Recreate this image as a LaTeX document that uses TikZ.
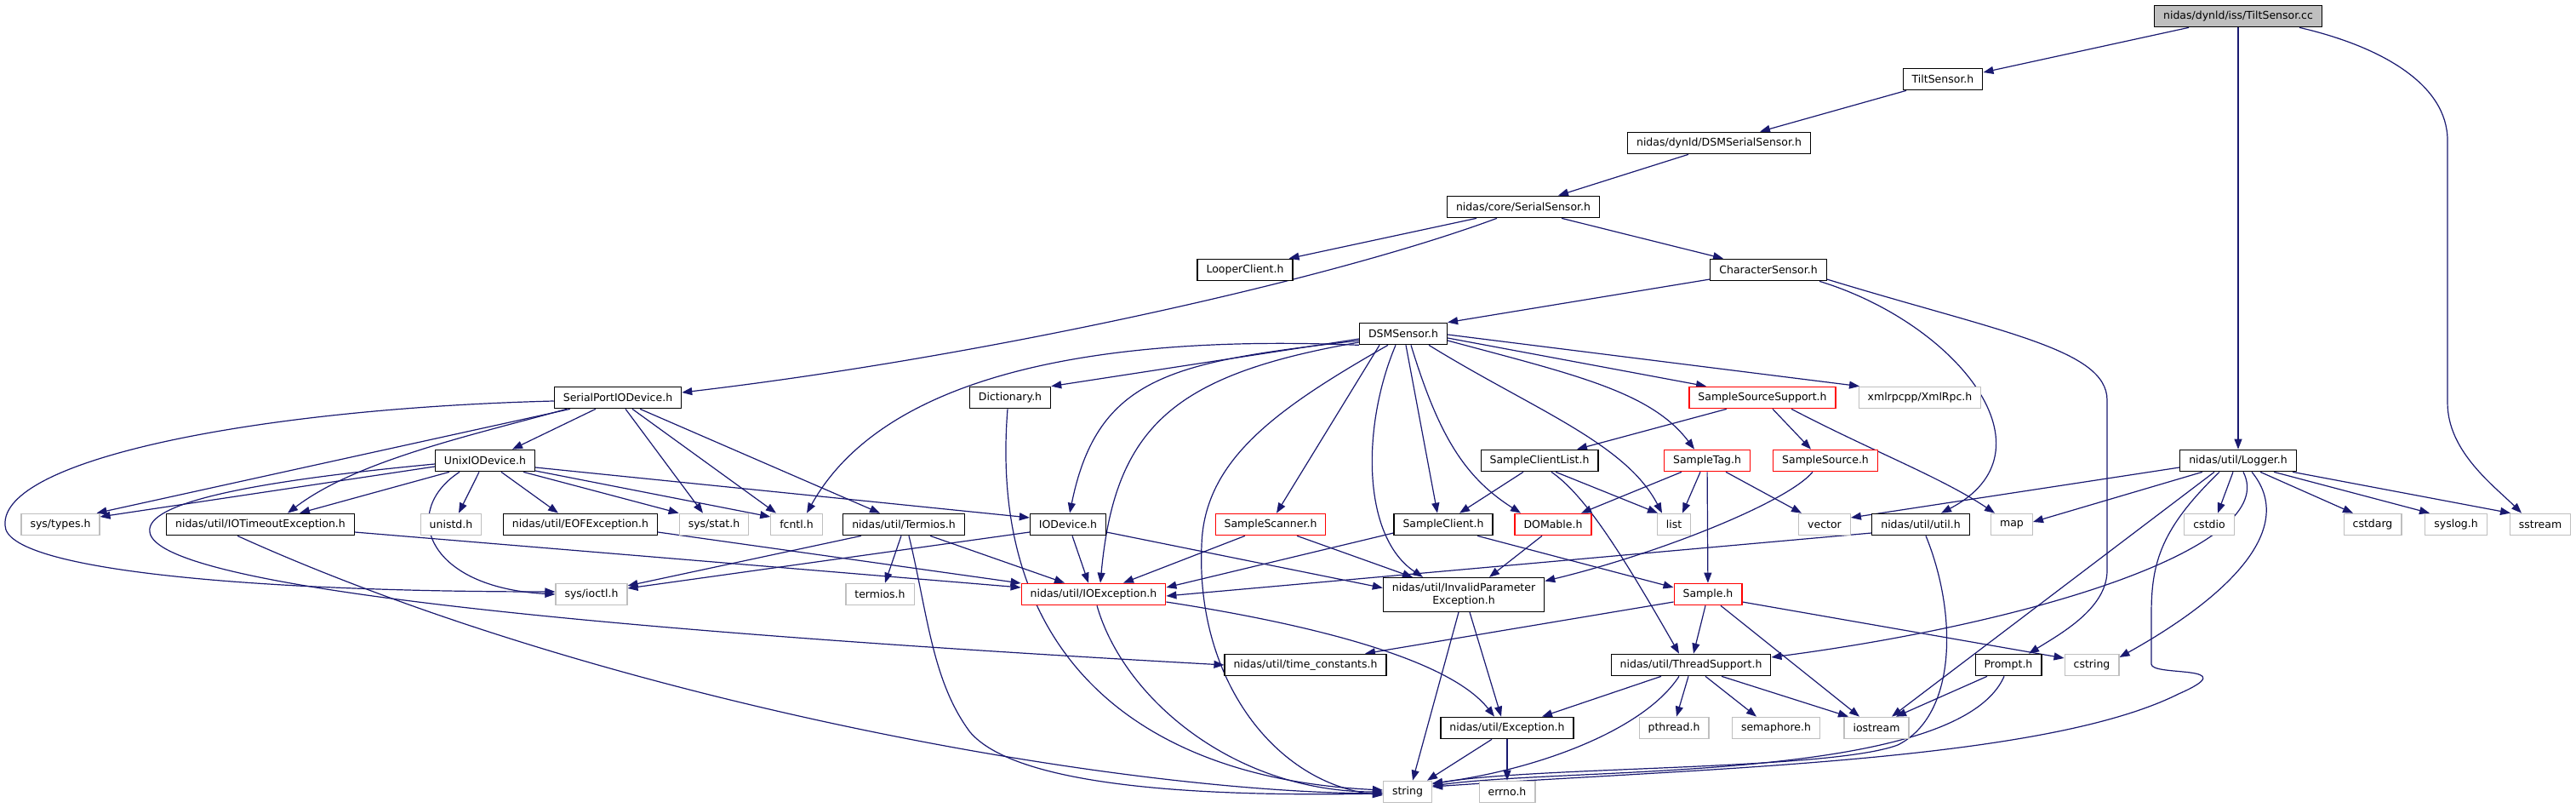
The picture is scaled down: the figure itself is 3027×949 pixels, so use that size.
\documentclass[tikz,border=0pt]{standalone}
\usepackage{fontspec}
\setmainfont{DejaVu Sans}
\usetikzlibrary{arrows.meta,backgrounds}
\definecolor{edgeblue}{RGB}{25,25,112}
\definecolor{boxgray}{RGB}{191,191,191}
\definecolor{rootfill}{RGB}{191,191,191}
\tikzset{
  % Tugunlar
  hbox/.style    = {draw=black, line width=1.2pt, fill=white, minimum height=25.5pt,
                    inner xsep=10.5pt, inner ysep=2pt, font=\fontsize{12.5}{15}\selectfont},
  sysbox/.style  = {hbox, draw=boxgray},
  redbox/.style  = {hbox, draw=red},
  rootbox/.style = {hbox, fill=rootfill},
  % Bog'lanishlar
  dep/.style     = {-{Triangle[length=12pt,width=9pt]}, draw=edgeblue, line width=1.2pt},
}
\begin{document}
\begin{tikzpicture}[x=1pt,y=-1pt]
  \useasboundingbox (0,0) rectangle (3027,949);
  % Yuqori zanjir
  \node[rootbox] (tcc) at (2630,19) {nidas/dynld/iss/TiltSensor.cc};
  \node[hbox] (tsh) at (2283,93) {TiltSensor.h};
  \node[hbox] (dss) at (2020,168) {nidas/dynld/DSMSerialSensor.h};
  \node[hbox] (ssh) at (1790,243) {nidas/core/SerialSensor.h};
  \node[hbox] (lcl) at (1463,317) {LooperClient.h};
  \node[hbox] (chs) at (2078,317) {CharacterSensor.h};
  \node[hbox] (dsm) at (1649,392) {DSMSensor.h};
  % 467-qator
  \node[hbox] (spd) at (726,467) {SerialPortIODevice.h};
  \node[hbox] (dic) at (1187,467) {Dictionary.h};
  \node[redbox] (sss) at (2071,467) {SampleSourceSupport.h};
  \node[sysbox] (xml) at (2256,467) {xmlrpcpp/XmlRpc.h};
  % 541-qator
  \node[hbox] (uio) at (570,541) {UnixIODevice.h};
  \node[hbox] (scl) at (1809,541) {SampleClientList.h};
  \node[redbox] (stg) at (2006,541) {SampleTag.h};
  \node[redbox] (ssr) at (2145,541) {SampleSource.h};
  \node[hbox] (log) at (2630,541) {nidas/util/Logger.h};
  % 616-qator
  \node[sysbox] (typ) at (71,616) {sys/types.h};
  \node[hbox] (iot) at (306,616) {nidas/util/IOTimeoutException.h};
  \node[sysbox] (uni) at (530,616) {unistd.h};
  \node[hbox] (eof) at (682,616) {nidas/util/EOFException.h};
  \node[sysbox] (sta) at (839,616) {sys/stat.h};
  \node[sysbox] (fcn) at (936,616) {fcntl.h};
  \node[hbox] (ter) at (1062,616) {nidas/util/Termios.h};
  \node[hbox] (iod) at (1255,616) {IODevice.h};
  \node[redbox] (ssc) at (1493,616) {SampleScanner.h};
  \node[hbox] (scn) at (1696,616) {SampleClient.h};
  \node[redbox] (dom) at (1825,616) {DOMable.h};
  \node[sysbox] (lst) at (1967,616) {list};
  \node[sysbox] (vec) at (2144,616) {vector};
  \node[hbox] (utl) at (2257,616) {nidas/util/util.h};
  \node[sysbox] (map) at (2364,616) {map};
  \node[sysbox] (cio) at (2596,616) {cstdio};
  \node[sysbox] (cag) at (2788,616) {cstdarg};
  \node[sysbox] (slg) at (2886,616) {syslog.h};
  \node[sysbox] (sst) at (2985,616) {sstream};
  % 698-qator
  \node[sysbox] (ioc) at (695,698) {sys/ioctl.h};
  \node[sysbox] (tms) at (1034,698) {termios.h};
  \node[redbox] (ioe) at (1285,698) {nidas/util/IOException.h};
  \node[hbox, align=center, minimum height=40pt] (ipe) at (1720,698.5)
    {nidas/util/InvalidParameter\\Exception.h};
  \node[redbox] (smp) at (2007,698) {Sample.h};
  % 781-qator
  \node[hbox] (tcs) at (1534,781) {nidas/util/time\_constants.h};
  \node[hbox] (thr) at (1987,781) {nidas/util/ThreadSupport.h};
  \node[hbox] (prm) at (2360,781) {Prompt.h};
  \node[sysbox] (cst) at (2458,781) {cstring};
  % 855-qator
  \node[hbox] (exc) at (1771,855) {nidas/util/Exception.h};
  \node[sysbox] (pth) at (1967,855) {pthread.h};
  \node[sysbox] (sem) at (2087,855) {semaphore.h};
  \node[sysbox] (ios) at (2205,855) {iostream};
  % 930-qator
  \node[sysbox] (str) at (1654,930) {string};
  \node[sysbox] (err) at (1771,930) {errno.h};

  \begin{scope}[on background layer]
    % TiltSensor.cc
    \draw[dep] ([xshift=-58pt]tcc.south) -- ([yshift=8pt]tsh.east);
    \draw[dep] (tcc) -- (log);
    \draw[dep] ([xshift=72pt]tcc.south) .. controls (2800,55) and (2876,100) .. (2876,165)
      -- (2876,473) .. controls (2876,530) and (2930,570) .. ([xshift=-22pt]sst.north);
    \draw[dep] ([xshift=-43pt]tsh.south) -- ([xshift=48pt]dss.north);
    \draw[dep] ([xshift=-36pt]dss.south) -- ([xshift=41pt]ssh.north);
    % SerialSensor.h
    \draw[dep] ([xshift=-55pt]ssh.south) -- ([xshift=-5pt]lcl.north east);
    \draw[dep] ([xshift=-31pt]ssh.south) .. controls (1560,330) and (1150,420) .. ([yshift=6pt]spd.east);
    \draw[dep] ([xshift=45pt]ssh.south) -- ([xshift=-53pt]chs.north);
    % CharacterSensor.h
    \draw[dep] ([yshift=-11pt]chs.west) -- (dsm.north east);
    \draw[dep] ([xshift=60pt]chs.south) .. controls (2300,380) and (2420,530) .. ([xshift=24pt]utl.north);
    \draw[dep] ([yshift=-11pt]chs.east) .. controls (2350,390) and (2476,410) .. (2476,470)
      -- (2476,670) .. controls (2476,715) and (2420,745) .. ([xshift=24pt]prm.north);
    % DSMSensor.h
    \draw[dep] ([yshift=-6pt]dsm.west) -- (dic.north east);
    \draw[dep] (dsm.south west) .. controls (1350,395) and (1050,420) .. ([xshift=12pt]fcn.north);
    \draw[dep] ([yshift=-8pt]dsm.west) .. controls (1380,425) and (1290,440) .. ([xshift=2pt]iod.north);
    \draw[dep] ([yshift=-10pt]dsm.west) .. controls (1380,440) and (1310,500) .. ([xshift=8pt]ioe.north);
    \draw[dep] ([xshift=-18pt]dsm.south) .. controls (1500,480) and (1415,540) .. (1412,640)
      .. controls (1405,800) and (1500,920) .. ([yshift=-4pt]str.west);
    \draw[dep] ([xshift=-28pt]dsm.south) -- ([xshift=7pt]ssc.north);
    \draw[dep] ([xshift=-9pt]dsm.south) .. controls (1600,500) and (1600,630) .. ([xshift=-48pt]ipe.north);
    \draw[dep] ([xshift=3pt]dsm.south) -- ([xshift=-7pt]scn.north);
    \draw[dep] ([xshift=9pt]dsm.south) .. controls (1690,510) and (1720,560) .. ([xshift=-38pt]dom.north);
    \draw[dep] ([xshift=30pt]dsm.south) .. controls (1800,480) and (1910,520) .. ([xshift=-14pt]lst.north);
    \draw[dep] ([yshift=-8pt]dsm.east) .. controls (1850,440) and (1940,460) .. ([xshift=-15pt]stg.north);
    \draw[dep] ([yshift=-5pt]dsm.east) -- ([xshift=-66pt]sss.north);
    \draw[dep] ([yshift=-1pt]dsm.east) -- ([xshift=-71pt]xml.north);
    % SampleSourceSupport.h, SampleTag.h, SampleSource.h, SampleClientList.h
    \draw[dep] ([xshift=-42pt]sss.south) -- ([xshift=44pt]scl.north);
    \draw[dep] ([xshift=12pt]sss.south) -- ([xshift=-17pt]ssr.north);
    \draw[dep] ([xshift=34pt]sss.south) .. controls (2200,530) and (2280,560) .. ([xshift=-20pt]map.north);
    \draw[dep] ([xshift=-30pt]stg.south) -- ([xshift=33pt]dom.north);
    \draw[dep] ([xshift=-8pt]stg.south) -- ([xshift=10pt]lst.north);
    \draw[dep] (stg) -- (smp);
    \draw[dep] ([xshift=22pt]stg.south) -- ([xshift=-27pt]vec.north);
    \draw[dep] ([xshift=-15pt]ssr.south) .. controls (2100,590) and (1950,650) .. ([yshift=16pt]ipe.east);
    \draw[dep] ([xshift=-19pt]scl.south) -- ([xshift=19pt]scn.north);
    \draw[dep] ([xshift=19pt]scl.south) -- ([xshift=-19pt]lst.north);
    \draw[dep] ([xshift=14pt]scl.south) .. controls (1860,580) and (1900,640) .. ([xshift=-14pt]thr.north);
    % 616-qatordan
    \draw[dep] ([yshift=-10pt]scn.west) -- ([yshift=8pt]ioe.east);
    \draw[dep] ([xshift=40pt]scn.south) -- ([yshift=8pt]smp.west);
    \draw[dep] ([xshift=-30pt]ssc.south) -- ([xshift=35pt]ioe.north);
    \draw[dep] ([xshift=31pt]ssc.south) -- ([xshift=-60pt]ipe.north);
    \draw[dep] ([xshift=-13pt]dom.south) -- ([xshift=30pt]ipe.north);
    \draw[dep] ([xshift=5pt]iod.south) -- ([xshift=-6pt]ioe.north);
    \draw[dep] ([yshift=-9pt]iod.east) -- ([yshift=8pt]ipe.west);
    \draw[dep] ([yshift=-9pt]iod.west) -- ([yshift=7pt]ioc.east);
    \draw[dep] ([xshift=-3pt]ter.south) -- ([xshift=6pt]tms.north);
    \draw[dep] ([xshift=31pt]ter.south) -- ([xshift=-34pt]ioe.north);
    \draw[dep] ([xshift=-50pt]ter.south) -- ([yshift=10pt]ioc.east);
    \draw[dep] ([xshift=6pt]ter.south) .. controls (1090,720) and (1095,800) .. (1140,860)
      .. controls (1200,930) and (1450,935) .. ([yshift=-2pt]str.west);
    \draw[dep] ([yshift=-10pt]utl.west) -- ([yshift=-2pt]ioe.east);
    \draw[dep] ([xshift=6pt]utl.south) .. controls (2300,720) and (2300,840) .. (2230,875)
      .. controls (2150,905) and (1800,900) .. ([yshift=9pt]str.east);
    % IOException.h, InvalidParameterException.h, Exception.h
    \draw[dep] ([xshift=4pt]ioe.south) .. controls (1320,820) and (1450,930) .. (str.west);
    \draw[dep] ([yshift=-9pt]ioe.east) .. controls (1520,730) and (1700,770) .. ([xshift=-15pt]exc.north);
    \draw[dep] ([xshift=-6pt]ipe.south) -- ([xshift=6pt]str.north);
    \draw[dep] ([xshift=7pt]ipe.south) -- ([xshift=-7pt]exc.north);
    \draw[dep] ([xshift=-18pt]exc.south) -- ([xshift=23pt]str.north);
    \draw[dep] (exc) -- (err);
    % Sample.h, ThreadSupport.h, Prompt.h
    \draw[dep] ([yshift=-9pt]smp.west) -- ([xshift=70pt]tcs.north);
    \draw[dep] ([xshift=-3pt]smp.south) -- ([xshift=3pt]thr.north);
    \draw[dep] ([xshift=15pt]smp.south) -- ([xshift=-20pt]ios.north);
    \draw[dep] ([yshift=-9pt]smp.east) -- ([yshift=8pt]cst.west);
    \draw[dep] ([xshift=-35pt]thr.south) -- ([xshift=41pt]exc.north);
    \draw[dep] ([xshift=-14pt]thr.south) .. controls (1930,860) and (1800,905) .. ([yshift=10pt]str.east);
    \draw[dep] ([xshift=-3pt]thr.south) -- ([xshift=3pt]pth.north);
    \draw[dep] ([xshift=17pt]thr.south) -- ([xshift=-23pt]sem.north);
    \draw[dep] ([xshift=36pt]thr.south) -- ([xshift=-33pt]ios.north);
    \draw[dep] ([xshift=-25pt]prm.south) -- ([xshift=23pt]ios.north);
    \draw[dep] ([xshift=-5pt]prm.south) .. controls (2300,920) and (1850,900) .. ([yshift=7pt]str.east);
    % Logger.h
    \draw[dep] ([yshift=-8pt]log.west) -- ([yshift=8pt]vec.east);
    \draw[dep] ([xshift=-42pt]log.south) -- ([yshift=3pt]map.east);
    \draw[dep] ([xshift=-28pt]log.south) -- ([xshift=18pt]ios.north);
    \draw[dep] ([xshift=-22pt]log.south) .. controls (2540,620) and (2528,660) .. (2528,720)
      -- (2528,780) .. controls (2528,795) and (2640,780) .. (2560,815)
      .. controls (2400,895) and (2000,902) .. ([yshift=6pt]str.east);
    \draw[dep] ([xshift=-6pt]log.south) -- ([xshift=10pt]cio.north);
    \draw[dep] ([xshift=6pt]log.south) .. controls (2680,640) and (2400,730) .. ([yshift=9pt]thr.east);
    \draw[dep] ([xshift=16pt]log.south) .. controls (2700,620) and (2620,700) .. ([yshift=9pt]cst.east);
    \draw[dep] ([xshift=26pt]log.south) -- ([xshift=-23pt]cag.north);
    \draw[dep] ([xshift=42pt]log.south) -- ([xshift=-31pt]slg.north);
    \draw[dep] ([xshift=64pt]log.south) -- ([xshift=-35pt]sst.north);
    % SerialPortIODevice.h
    \draw[dep] ([yshift=-4pt]spd.west) .. controls (300,480) and (0,540) .. (6,617)
      .. controls (6,670) and (300,695) .. ([yshift=3pt]ioc.west);
    \draw[dep] ([xshift=-56pt]spd.south) -- ([xshift=-4pt]typ.north east);
    \draw[dep] ([xshift=-60pt]spd.south) .. controls (560,510) and (420,540) .. ([xshift=32pt]iot.north);
    \draw[dep] ([xshift=-26pt]spd.south) -- ([xshift=32pt]uio.north);
    \draw[dep] ([xshift=9pt]spd.south) -- ([xshift=-13pt]sta.north);
    \draw[dep] ([xshift=17pt]spd.south) -- ([xshift=-24pt]fcn.north);
    \draw[dep] ([xshift=26pt]spd.south) -- ([xshift=-28pt]ter.north);
    % UnixIODevice.h
    \draw[dep] ([yshift=-7pt]uio.west) -- ([yshift=9pt]typ.east);
    \draw[dep] ([xshift=-42pt]uio.south) -- ([xshift=46pt]iot.north);
    \draw[dep] ([yshift=-4pt]uio.west) .. controls (300,565) and (170,590) .. (176,625)
      .. controls (185,690) and (700,740) .. (tcs.west);
    \draw[dep] ([xshift=-30pt]uio.south) .. controls (470,600) and (500,690) .. (ioc.west);
    \draw[dep] ([xshift=-7pt]uio.south) -- ([xshift=9pt]uni.north);
    \draw[dep] ([xshift=19pt]uio.south) -- ([xshift=-26pt]eof.north);
    \draw[dep] ([xshift=45pt]uio.south) -- (sta.north west);
    \draw[dep] ([yshift=-12pt]uio.east) -- ([yshift=9pt]fcn.west);
    \draw[dep] ([yshift=-8pt]uio.east) -- ([yshift=8pt]iod.west);
    % IOTimeoutException.h, EOFException.h, Dictionary.h
    \draw[dep] ([yshift=-9pt]iot.east) -- ([yshift=8pt]ioe.west);
    \draw[dep] ([xshift=-27pt]iot.south) .. controls (700,820) and (1300,930) .. ([yshift=-2pt]str.west);
    \draw[dep] ([yshift=-9pt]eof.east) -- ([yshift=13pt]ioe.west);
    \draw[dep] ([xshift=-3pt]dic.south) .. controls (1160,780) and (1350,915) .. ([yshift=2pt]str.west);
  \end{scope}
\end{tikzpicture}
\end{document}
